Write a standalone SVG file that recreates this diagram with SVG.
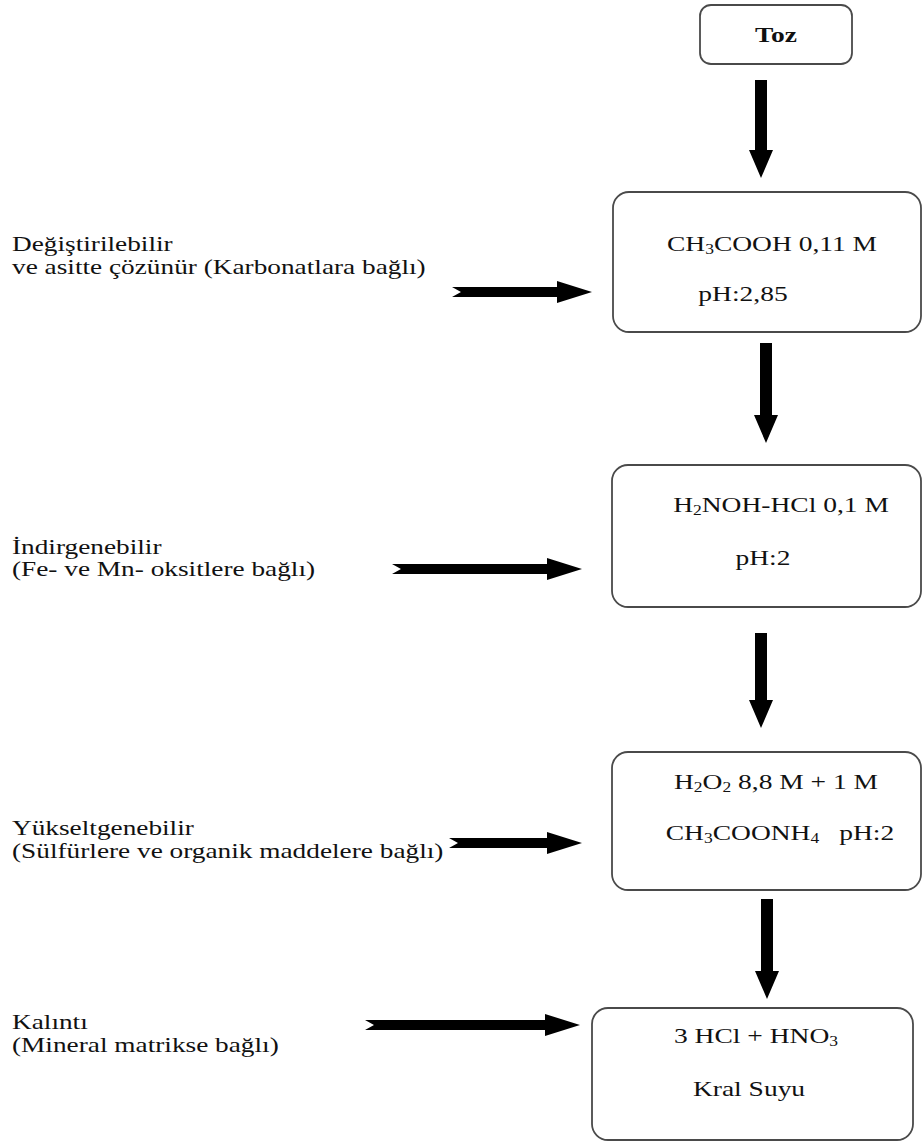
<svg xmlns="http://www.w3.org/2000/svg" width="923" height="1146" viewBox="0 0 923 1146">
<style>
.box{fill:#fff;stroke:#4a4a4a;stroke-width:1.8}
.t{font-family:"Liberation Serif","Times New Roman",serif;font-size:22px;fill:#111}
.l{font-size:21px}
.c{text-anchor:middle}
.b{font-weight:bold}
.s{font-size:14px}
.arr{fill:#000;stroke:none}
</style>
<rect width="923" height="1146" fill="#fff"/>
<g id="toz">
<rect class="box" x="700" y="5" width="152" height="59" rx="11"/>
<text class="t c b" transform="translate(776,42) scale(1.25,1)">Toz</text>
</g>
<g id="step1">
<rect class="box" x="613" y="192" width="308" height="140" rx="16"/>
<text class="t c" transform="translate(772,251) scale(1.25,1)">CH<tspan class="s" dy="3">3</tspan><tspan dy="-3">COOH 0,11 M</tspan></text>
<text class="t c" transform="translate(743,301) scale(1.25,1)">pH:2,85</text>
</g>
<g id="step2">
<rect class="box" x="612" y="465" width="309" height="142" rx="16"/>
<text class="t c" transform="translate(781,512) scale(1.25,1)">H<tspan class="s" dy="3">2</tspan><tspan dy="-3">NOH-HCl 0,1 M</tspan></text>
<text class="t c" transform="translate(763,565) scale(1.25,1)">pH:2</text>
</g>
<g id="step3">
<rect class="box" x="612" y="752" width="309" height="138" rx="16"/>
<text class="t c" transform="translate(776,789) scale(1.25,1)">H<tspan class="s" dy="3">2</tspan><tspan dy="-3">O</tspan><tspan class="s" dy="3">2</tspan><tspan dy="-3"> 8,8 M + 1 M</tspan></text>
<text class="t c" transform="translate(780,840) scale(1.25,1)">CH<tspan class="s" dy="3">3</tspan><tspan dy="-3">COONH</tspan><tspan class="s" dy="3">4</tspan><tspan dy="-3" dx="16">pH:2</tspan></text>
</g>
<g id="step4">
<rect class="box" x="592" y="1008" width="321" height="132" rx="16"/>
<text class="t c" transform="translate(756,1043) scale(1.25,1)">3 HCl + HNO<tspan class="s" dy="3">3</tspan></text>
<text class="t c" transform="translate(749,1096) scale(1.25,1)">Kral Suyu</text>
</g>
<g id="label1">
<text class="t l" transform="translate(12,251) scale(1.3,1)">Değiştirilebilir</text>
<text class="t l" transform="translate(12,274) scale(1.3,1)">ve asitte çözünür (Karbonatlara bağlı)</text>
</g>
<g id="label2">
<text class="t l" transform="translate(12,554) scale(1.3,1)">İndirgenebilir</text>
<text class="t l" transform="translate(12,576) scale(1.3,1)">(Fe- ve Mn- oksitlere bağlı)</text>
</g>
<g id="label3">
<text class="t l" transform="translate(12,835) scale(1.3,1)">Yükseltgenebilir</text>
<text class="t l" transform="translate(12,858) scale(1.3,1)">(Sülfürlere ve organik maddelere bağlı)</text>
</g>
<g id="label4">
<text class="t l" transform="translate(12,1029) scale(1.3,1)">Kalıntı</text>
<text class="t l" transform="translate(12,1052) scale(1.3,1)">(Mineral matrikse bağlı)</text>
</g>
<g id="connectors">
<path class="arr" d="M755 80 H767 V150 H773 L761 178 L749 150 H755 Z"/>
<path class="arr" d="M760 343 H772 V415 H778 L766 443 L754 415 H760 Z"/>
<path class="arr" d="M755 633 H767 V700 H773 L761 728 L749 700 H755 Z"/>
<path class="arr" d="M761 899 H773 V971 H779 L767 999 L755 971 H761 Z"/>
<path class="arr" d="M452 287 H557 V281 L592 292 L557 303 V297 H452 L461 292 Z"/>
<path class="arr" d="M392 564 H547 V558 L582 569 L547 580 V574 H392 L401 569 Z"/>
<path class="arr" d="M449 838 H547 V832 L582 843 L547 854 V848 H449 L458 843 Z"/>
<path class="arr" d="M365 1020 H545 V1014 L580 1025 L545 1036 V1030 H365 L374 1025 Z"/>
</g>
</svg>
